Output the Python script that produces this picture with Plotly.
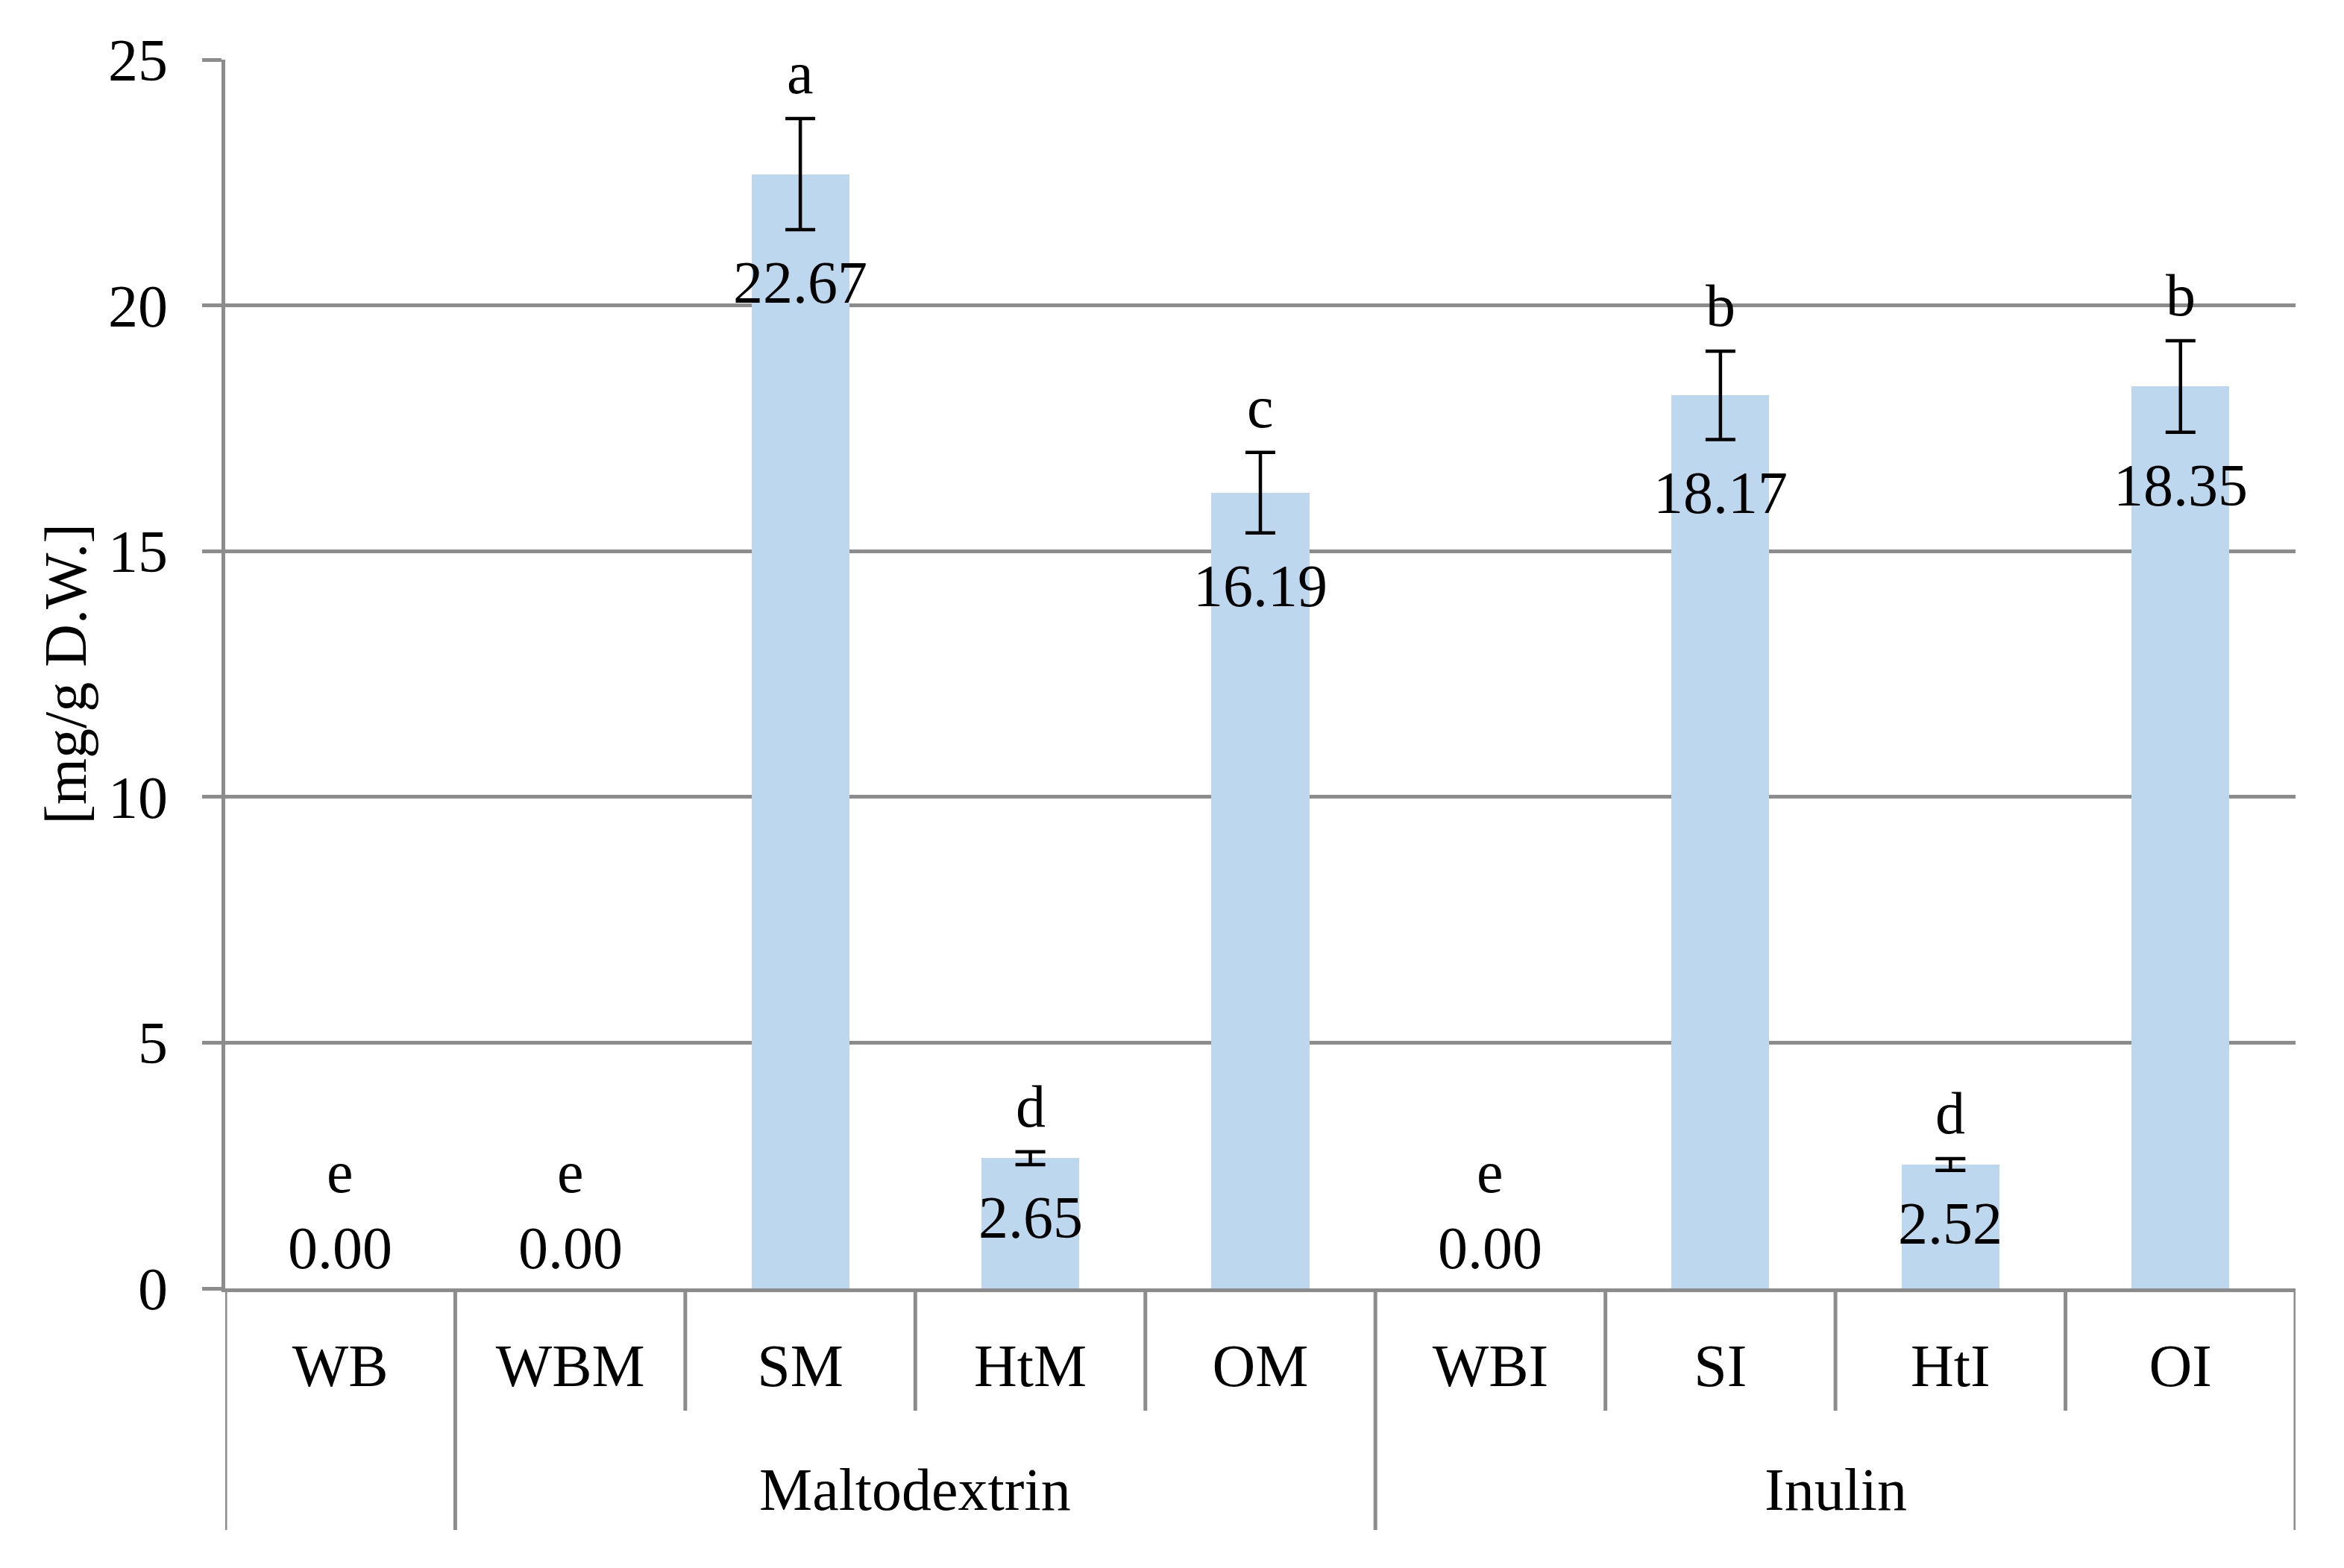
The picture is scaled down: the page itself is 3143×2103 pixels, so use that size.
import plotly.graph_objects as go

categories = ["WB", "WBM", "SM", "HtM", "OM", "WBI", "SI", "HtI", "OI"]
values = [0.00, 0.00, 22.67, 2.65, 16.19, 0.00, 18.17, 2.52, 18.35]
errors = [0.0, 0.0, 1.13, 0.13, 0.82, 0.0, 0.90, 0.12, 0.93]
letters = ["e", "e", "a", "d", "c", "e", "b", "d", "b"]
groups = ["", "Maltodextrin", "Inulin"]
group_members = [[0], [1, 2, 3, 4], [5, 6, 7, 8]]
y_ticks = [0, 5, 10, 15, 20, 25]

W, H = 3143, 2103
L, R, T, B = 294, 73, 72, 383
plot_h = H - T - B
FONT = "Liberation Serif"
FS = 80
GRAY = "#8C8C8C"
LW = 5

def paper_y(px_below_axis):
    return -px_below_axis / plot_h

axis_px = H - B  # pixel row of the x axis

fig = go.Figure()
fig.add_trace(go.Bar(
    x=categories, y=values,
    marker=dict(color="#BDD7EE", line=dict(width=0)),
    width=0.425,
    hoverinfo="skip",
))

# error bars only where a value is measured above zero
eb_x = [c for c, v in zip(categories, values) if v > 0]
eb_y = [v for v in values if v > 0]
eb_e = [e for v, e in zip(values, errors) if v > 0]
fig.add_trace(go.Scatter(
    x=eb_x, y=eb_y, mode="markers",
    marker=dict(size=1, opacity=0),
    error_y=dict(type="data", array=eb_e, visible=True,
                 color="black", thickness=4.5, width=20),
    hoverinfo="skip",
))

annotations = []
tf = dict(family=FONT, size=FS, color="black")
for c, v, e, let in zip(categories, values, errors, letters):
    if v == 0:
        annotations.append(dict(x=c, y=0, xref="x", yref="y", text=f"{v:.2f}",
                                showarrow=False, yanchor="middle", yshift=54, font=tf))
        annotations.append(dict(x=c, y=0, xref="x", yref="y", text=let,
                                showarrow=False, yanchor="middle", yshift=156, font=tf))
    else:
        annotations.append(dict(x=c, y=v - e, xref="x", yref="y", text=f"{v:.2f}",
                                showarrow=False, yanchor="middle", yshift=-71, font=tf))
        annotations.append(dict(x=c, y=v + e, xref="x", yref="y", text=let,
                                showarrow=False, yanchor="middle", yshift=61, font=tf))

for g, members in zip(groups, group_members):
    if g:
        annotations.append(dict(x=sum(members) / len(members), y=paper_y(1990 - axis_px),
                                xref="x", yref="paper", text=g, showarrow=False,
                                yanchor="middle", font=tf))

shapes = []
group_bounds = set()
for members in group_members:
    group_bounds.add(members[0] - 0.5)
    group_bounds.add(members[-1] + 0.5)
for i in range(len(categories) + 1):
    b = i - 0.5
    y_end = paper_y(2044 - axis_px) if b in group_bounds else paper_y(1884 - axis_px)
    shapes.append(dict(type="line", xref="x", yref="paper", x0=b, x1=b,
                       y0=0, y1=y_end, line=dict(color=GRAY, width=LW)))

fig.update_layout(
    width=W, height=H,
    margin=dict(l=L, r=R, t=T, b=B),
    paper_bgcolor="white", plot_bgcolor="white",
    showlegend=False,
    font=tf,
    annotations=annotations,
    shapes=shapes,
    bargap=0,
)
fig.update_xaxes(
    type="category", categoryorder="array", categoryarray=categories,
    range=[-0.5, len(categories) - 0.5],
    showline=True, linecolor=GRAY, linewidth=LW,
    showgrid=False, ticks="", zeroline=False,
    tickfont=tf,
    ticklabelstandoff=30,
)
fig.update_yaxes(
    range=[0, 25], tickvals=y_ticks,
    showgrid=True, gridcolor=GRAY, gridwidth=LW,
    showline=True, linecolor=GRAY, linewidth=LW,
    ticks="outside", ticklen=26, tickcolor=GRAY, tickwidth=LW,
    zeroline=False,
    tickfont=tf,
    ticklabelstandoff=30,
    title=dict(text="[mg/g D.W.]", font=tf, standoff=5),
)

fig.write_html("out.html")
